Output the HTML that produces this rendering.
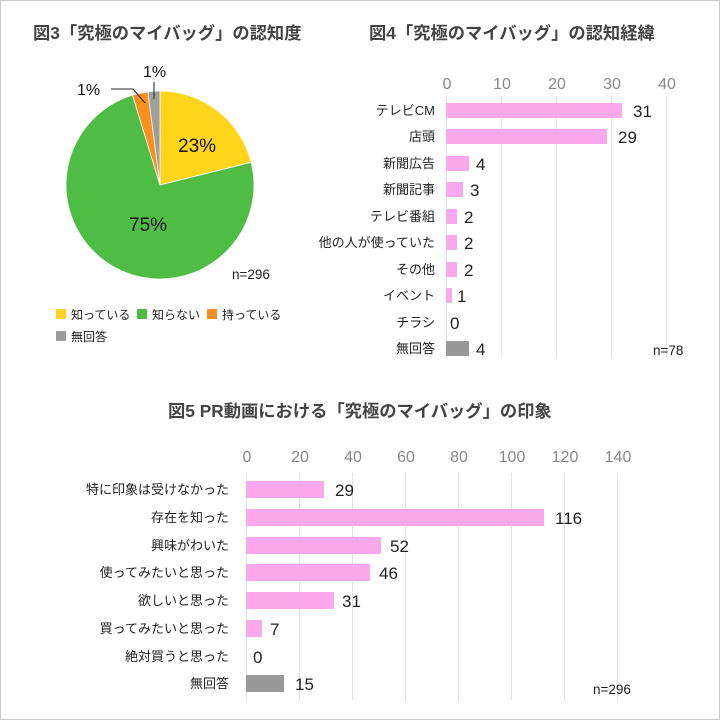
<!DOCTYPE html>
<html><head><meta charset="utf-8"><style>
html,body{margin:0;padding:0;background:#fff}
svg{display:block}
text{font-family:"Liberation Sans","Noto Sans CJK JP",sans-serif}
</style></head><body>
<svg width="720" height="720" viewBox="0 0 720 720" xmlns="http://www.w3.org/2000/svg">
<rect x="0.5" y="0.5" width="719" height="719" fill="#fff" stroke="#ccc"/>
<g font-weight="bold" font-size="17.3" fill="#444">
<text x="33" y="39">図3「究極のマイバッグ」の認知度</text>
<text x="369" y="39">図4「究極のマイバッグ」の認知経緯</text>
<text x="168" y="417">図5 PR動画における「究極のマイバッグ」の印象</text>
</g>
<!-- pie -->
<path d="M160,185 L160,91 A94,94 0 0 1 251.2,162.3 Z" fill="#FFD51C" stroke="#fff" stroke-width="0.8"/>
<path d="M160,185 L251.2,162.3 A94,94 0 1 1 132.5,95.1 Z" fill="#4FBD45" stroke="#fff" stroke-width="0.8"/>
<path d="M160,185 L132.5,95.1 A94,94 0 0 1 147.9,91.8 Z" fill="#F7901E" stroke="#fff" stroke-width="0.8"/>
<path d="M160,185 L147.9,91.8 A94,94 0 0 1 160,91 Z" fill="#9E9E9E" stroke="#fff" stroke-width="0.8"/>
<g font-size="19" fill="#111">
<text x="178" y="152">23%</text>
<text x="129" y="231">75%</text>
</g>
<g font-size="16" fill="#111">
<text x="77" y="95">1%</text>
<text x="143" y="77">1%</text>
</g>
<polyline points="111,89 133,89 145,103" fill="none" stroke="#222" stroke-width="1"/>
<line x1="154" y1="82" x2="154" y2="99" stroke="#222"/>
<text x="232" y="279" font-size="13.5" fill="#222">n=296</text>
<g font-size="12" fill="#222">
<rect x="56" y="309" width="10" height="10" fill="#FFD51C"/><text x="71" y="319">知っている</text>
<rect x="137" y="309" width="10" height="10" fill="#4FBD45"/><text x="152" y="319">知らない</text>
<rect x="207" y="309" width="10" height="10" fill="#F7901E"/><text x="222" y="319">持っている</text>
<rect x="56" y="331" width="10" height="10" fill="#9E9E9E"/><text x="71" y="341">無回答</text>
</g>
<!-- chart 4 -->
<g stroke="#e2e2e2" stroke-width="1">
<line x1="446.5" y1="96" x2="446.5" y2="358"/><line x1="501.5" y1="96" x2="501.5" y2="358"/><line x1="556.5" y1="96" x2="556.5" y2="358"/><line x1="611.5" y1="96" x2="611.5" y2="358"/><line x1="666.5" y1="96" x2="666.5" y2="358"/>
</g>
<g font-size="16" fill="#888" text-anchor="middle">
<text x="447" y="89">0</text><text x="502" y="89">10</text><text x="557" y="89">20</text><text x="612" y="89">30</text><text x="667" y="89">40</text>
</g>
<g fill="#FCA8EC">
<rect x="446" y="103" width="176" height="15"/>
<rect x="446" y="129" width="161" height="15"/>
<rect x="446" y="156" width="23" height="15"/>
<rect x="446" y="182" width="17" height="15"/>
<rect x="446" y="209" width="11" height="15"/>
<rect x="446" y="235" width="11" height="15"/>
<rect x="446" y="262" width="11" height="15"/>
<rect x="446" y="288" width="6" height="15"/>
</g>
<rect x="446" y="341" width="23" height="15" fill="#999"/>
<g font-size="13" fill="#222" text-anchor="end">
<text x="435" y="115">テレビCM</text><text x="435" y="141">店頭</text><text x="435" y="168">新聞広告</text><text x="435" y="194">新聞記事</text><text x="435" y="221">テレビ番組</text><text x="435" y="247">他の人が使っていた</text><text x="435" y="274">その他</text><text x="435" y="300">イベント</text><text x="435" y="327">チラシ</text><text x="435" y="353">無回答</text>
</g>
<g font-size="17" fill="#222">
<text x="633" y="117">31</text><text x="618" y="143">29</text><text x="476" y="170">4</text><text x="470" y="196">3</text><text x="464" y="223">2</text><text x="464" y="249">2</text><text x="464" y="276">2</text><text x="457" y="302">1</text><text x="450" y="329">0</text><text x="476" y="355">4</text>
</g>
<text x="653" y="355" font-size="13.5" fill="#222">n=78</text>
<!-- chart 5 -->
<g stroke="#e2e2e2" stroke-width="1">
<line x1="246.5" y1="473" x2="246.5" y2="700"/><line x1="299.5" y1="473" x2="299.5" y2="700"/><line x1="352.5" y1="473" x2="352.5" y2="700"/><line x1="405.5" y1="473" x2="405.5" y2="700"/><line x1="458.5" y1="473" x2="458.5" y2="700"/><line x1="511.5" y1="473" x2="511.5" y2="700"/><line x1="564.5" y1="473" x2="564.5" y2="700"/><line x1="617.5" y1="473" x2="617.5" y2="700"/>
</g>
<g font-size="16" fill="#888" text-anchor="middle">
<text x="247" y="462">0</text><text x="300" y="462">20</text><text x="353" y="462">40</text><text x="406" y="462">60</text><text x="459" y="462">80</text><text x="512" y="462">100</text><text x="565" y="462">120</text><text x="618" y="462">140</text>
</g>
<g fill="#FCA8EC">
<rect x="246" y="481" width="78" height="17"/>
<rect x="246" y="509" width="298" height="17"/>
<rect x="246" y="537" width="135" height="17"/>
<rect x="246" y="564" width="124" height="17"/>
<rect x="246" y="592" width="88" height="17"/>
<rect x="246" y="620" width="16" height="17"/>
</g>
<rect x="246" y="675" width="38" height="17" fill="#999"/>
<g font-size="13" fill="#222" text-anchor="end">
<text x="229" y="494">特に印象は受けなかった</text><text x="229" y="522">存在を知った</text><text x="229" y="550">興味がわいた</text><text x="229" y="577">使ってみたいと思った</text><text x="229" y="605">欲しいと思った</text><text x="229" y="633">買ってみたいと思った</text><text x="229" y="661">絶対買うと思った</text><text x="229" y="688">無回答</text>
</g>
<g font-size="17" fill="#222">
<text x="335" y="496">29</text><text x="555" y="524">116</text><text x="390" y="552">52</text><text x="379" y="579">46</text><text x="342" y="607">31</text><text x="270" y="635">7</text><text x="253" y="663">0</text><text x="295" y="690">15</text>
</g>
<text x="593" y="694" font-size="13.5" fill="#222">n=296</text>
</svg>
</body></html>
